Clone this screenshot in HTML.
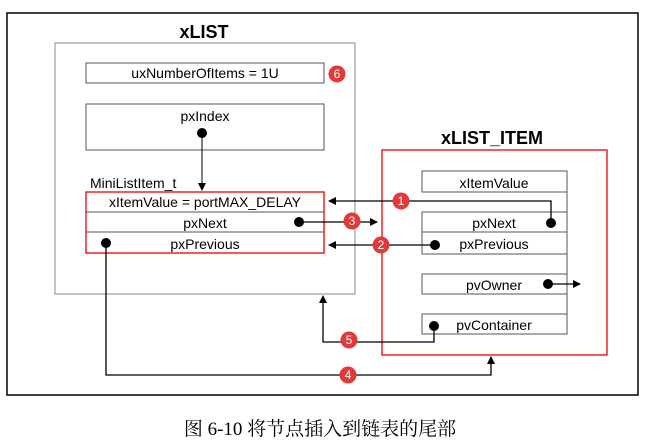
<!DOCTYPE html><html><head><meta charset="utf-8"><style>body{margin:0;background:#fff}</style></head><body>
<svg width="647" height="440" xmlns="http://www.w3.org/2000/svg" font-family="Liberation Sans, sans-serif" font-size="14">
<defs><marker id="a" markerWidth="8" markerHeight="8" refX="7" refY="4" orient="auto" markerUnits="userSpaceOnUse"><path d="M0,0L8,4L0,8z" fill="#000"/></marker></defs>
<rect x="7" y="13" width="631" height="382" fill="none" stroke="#000" stroke-width="1.5"/>
<text x="204" y="38" font-size="18" font-weight="bold" text-anchor="middle">xLIST</text>
<rect x="55" y="43" width="300" height="251" fill="none" stroke="#888"/>
<rect x="86" y="63" width="238" height="20" fill="none" stroke="#555"/>
<text x="205" y="78" text-anchor="middle">uxNumberOfItems = 1U</text>
<rect x="86" y="104" width="238" height="46" fill="none" stroke="#555"/>
<text x="205" y="121" text-anchor="middle">pxIndex</text>
<circle cx="202" cy="133" r="5"/>
<line x1="202" y1="133" x2="202" y2="190" stroke="#000" marker-end="url(#a)"/>
<text x="90" y="188">MiniListItem_t</text>
<rect x="86" y="192" width="238" height="61" fill="none" stroke="#e00" stroke-width="1.3"/>
<line x1="86" y1="212" x2="324" y2="212" stroke="#555"/><line x1="86" y1="232" x2="324" y2="232" stroke="#555"/>
<text x="205" y="207" text-anchor="middle">xItemValue = portMAX_DELAY</text>
<text x="205" y="228" text-anchor="middle">pxNext</text>
<text x="205" y="249" text-anchor="middle">pxPrevious</text>
<text x="492" y="144" font-size="18" font-weight="bold" text-anchor="middle">xLIST_ITEM</text>
<rect x="382" y="150" width="225" height="205" fill="none" stroke="#e00" stroke-width="1.3"/>
<g fill="none" stroke="#555"><rect x="422" y="171" width="145" height="21"/><rect x="422" y="212" width="145" height="42"/><line x1="422" y1="232" x2="567" y2="232"/><rect x="422" y="274" width="145" height="20"/><rect x="422" y="314" width="145" height="20"/><line x1="567" y1="171" x2="567" y2="334"/></g>
<text x="494" y="188" text-anchor="middle">xItemValue</text>
<text x="494" y="228" text-anchor="middle">pxNext</text>
<text x="494" y="249" text-anchor="middle">pxPrevious</text>
<text x="494" y="290" text-anchor="middle">pvOwner</text>
<text x="494" y="330" text-anchor="middle">pvContainer</text>
<g stroke="#000" stroke-width="1.3" fill="none">
<polyline points="551,223 551,201 329,201" marker-end="url(#a)"/>
<line x1="299" y1="222" x2="377" y2="222" marker-end="url(#a)"/>
<line x1="435" y1="245" x2="329" y2="245" marker-end="url(#a)"/>
<line x1="548" y1="284" x2="580" y2="284" marker-end="url(#a)"/>
<polyline points="434,326 434,342 323,342 323,296" marker-end="url(#a)"/>
<polyline points="106,243 106,375 491,375 491,357" marker-end="url(#a)"/>
</g>
<g><circle cx="551" cy="223" r="5"/><circle cx="299" cy="222" r="5"/><circle cx="435" cy="245" r="5"/><circle cx="548" cy="284" r="5"/><circle cx="434" cy="326" r="5"/><circle cx="106" cy="243" r="5"/></g>
<g fill="#e03a3a"><circle cx="337" cy="74" r="8.5"/><circle cx="401" cy="201" r="8.5"/><circle cx="352" cy="221" r="8.5"/><circle cx="381" cy="245" r="8.5"/><circle cx="349" cy="340" r="8.5"/><circle cx="348" cy="375" r="8.5"/></g>
<g fill="#fff" font-size="12" text-anchor="middle"><text x="337" y="78">6</text><text x="401" y="205">1</text><text x="352" y="225">3</text><text x="381" y="249">2</text><text x="349" y="344">5</text><text x="348" y="379">4</text></g>
<text x="320" y="435" font-size="19" text-anchor="middle" font-family="Liberation Serif, Noto Serif CJK SC, serif">图 6-10 将节点插入到链表的尾部</text>
</svg></body></html>
